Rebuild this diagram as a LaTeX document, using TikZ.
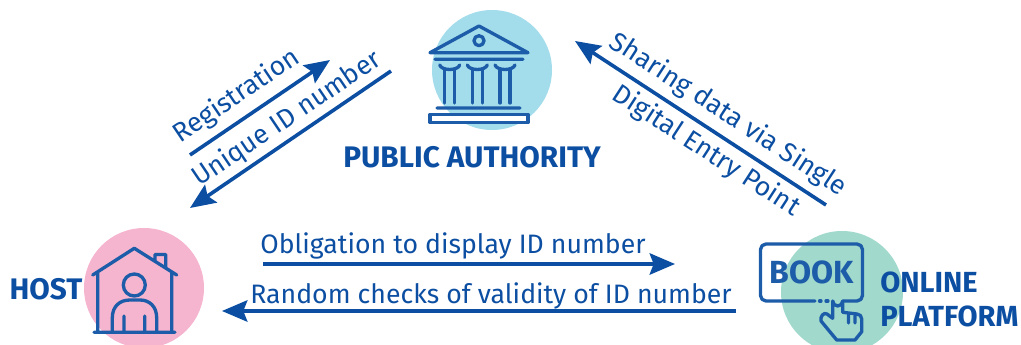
\documentclass[tikz,border=0pt]{standalone}
\usepackage{xcolor}
\usepackage{fontspec}
\setmainfont{Fira Sans}
\usetikzlibrary{arrows.meta}
\definecolor{eublue}{HTML}{0B4EA2}
\definecolor{iconblue}{HTML}{1D5CA8}
\definecolor{authcirc}{HTML}{A3DDEB}
\definecolor{hostcirc}{HTML}{F6B5CE}
\definecolor{platcirc}{HTML}{A1D9CC}
\begin{document}
\begin{tikzpicture}[x=0.75pt,y=-0.75pt,>={Stealth[length=19pt,width=16pt,inset=3pt]},
  flow/.style={line width=2.7pt,eublue,->},
  icon/.style={line width=2.5pt,iconblue,line cap=round,line join=round},
  lbl/.style={eublue,inner sep=0pt,font=\fontsize{20}{20}\selectfont},
  actor/.style={eublue,inner sep=0pt,align=left,font=\fontsize{22.3}{25.5}\selectfont\bfseries}]
\path[clip] (0,0) rectangle (1021,345);
\useasboundingbox (0,0) rectangle (1021,345);
\fill[authcirc] (492,70) circle (60);
\fill[hostcirc] (144,288) circle (60);
\fill[platcirc] (842,292) circle (61);
% building
\draw[icon] (430,52.7)--(479,26)--(528,52.7)--cycle (435,59.3)--(523,59.3)
  (437,108)--(520,108);
\draw[icon] (479,40.7) circle (5);
\draw[icon,fill=white] (430,114.5) rectangle (528,122.7);
\foreach \cx in {449.7,477.3,505}{
  \draw[icon] (\cx-10,65) .. controls (\cx-8,71) and (\cx+8,71) .. (\cx+10,65);
  \draw[icon] (\cx-5,69)--(\cx-5,103) (\cx+5,69)--(\cx+5,103);
}
% house
\draw[icon] (92.7,275)--(134.3,248.3)--(176.7,275) (155,261)--(155,254.5)--(165.7,254.5)--(165.7,267)
  (97.7,273)--(97.7,332.3) (171.7,273)--(171.7,332.3) (94,332.3)--(175,332.3);
\draw[icon] (134.3,285) circle (11);
\draw[icon] (112.3,332.3)--(112.3,318) .. controls (112.3,306) and (120,300) .. (130,300)--(140,300)
  .. controls (149,300) and (156.7,306) .. (156.7,318)--(156.7,332.3)
  (124,316)--(124,332.3) (144.7,316)--(144.7,332.3);
% book button
\draw[icon] (815,301)--(766,301) arc[start angle=90,end angle=180,radius=5.5]--(760.5,249.5)
  arc[start angle=180,end angle=270,radius=5.5]--(857,244) arc[start angle=270,end angle=360,radius=5.5]
  --(862.5,295.5) arc[start angle=0,end angle=90,radius=5.5]--(843,301);
\draw[icon] (819.5,301)--(821,301) (826,301)--(828,301);
\draw[icon] (832.7,318.3)--(832.7,301) arc[start angle=180,end angle=0,radius=5]--(842.7,312.3)
  --(857,314) .. controls (860,314.5) and (861.7,316) .. (861.7,319)--(861.7,331.7)--(855,340)--(836.7,340)
  --(821,321) .. controls (820,316) and (824,312) .. (827,314)--(832.7,318.3)
  (848.5,315)--(848.5,323) (855,316)--(855,323);
\node[iconblue,inner sep=0pt,font=\fontsize{24}{24}\selectfont\bfseries] (book) at (811.5,272) {BOOK};
% labels
\node[actor] (authority) at (472,157) {PUBLIC AUTHORITY};
\node[actor] (host) at (46,289) {HOST};
\node[actor,anchor=west,font=\fontsize{21.8}{25.5}\selectfont\bfseries] (platform) at (880,299) {ONLINE\\PLATFORM};
\node[lbl,rotate=34] (registration) at (237,96) {Registration};
\node[lbl,rotate=34] (uniqueid) at (287,119) {Unique ID number};
\node[lbl,rotate=-33] (sharing) at (728,115) {Sharing data via Single};
\node[lbl,rotate=-33] (entry) at (706,151) {Digital Entry Point};
\node[lbl] (obligation) at (453,246) {Obligation to display ID number};
\node[lbl] (checks) at (491,296) {Random checks of validity of ID number};
% arrows
\coordinate (a1) at (190,155); \coordinate (a2) at (330,60);
\coordinate (b1) at (391,71); \coordinate (b2) at (190,208);
\coordinate (c1) at (826,205); \coordinate (c2) at (575,41);
\coordinate (d1) at (263,264); \coordinate (d2) at (675,264);
\coordinate (e1) at (736,311); \coordinate (e2) at (222,311);
\draw[flow] (a1)--(a2);
\draw[flow] (b1)--(b2);
\draw[flow] (c1)--(c2);
\draw[flow] (d1)--(d2);
\draw[flow] (e1)--(e2);
\end{tikzpicture}
\end{document}
